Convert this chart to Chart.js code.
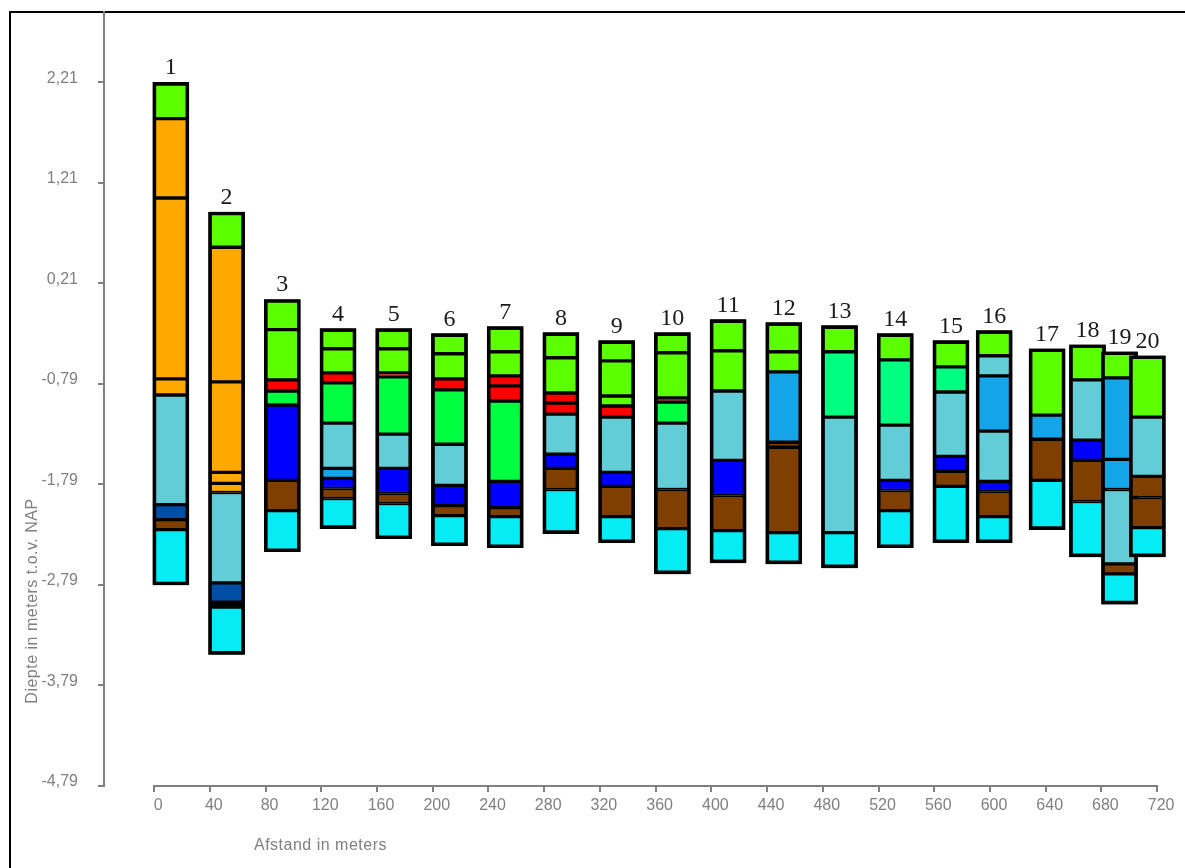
<!DOCTYPE html>
<html>
<head>
<meta charset="utf-8">
<script src="https://cdn.jsdelivr.net/npm/chart.js@4.4.1/dist/chart.umd.min.js"></script>
<style>
  body { margin: 0; background: #fff; }
  #wrap { position: relative; width: 1185px; height: 868px; overflow: hidden; }
  #frame { position: absolute; left: 9px; top: 11px; width: 1300px; height: 1000px; border-top: 2px solid #000; border-left: 2px solid #000; }
  canvas { position: absolute; left: 0; top: 0; }
</style>
</head>
<body>
<div id="wrap">
  <div id="frame"></div>
  <canvas id="chart" width="1185" height="868"></canvas>
</div>
<script>
// boringen (nummer + afstand in meters)
const boringen = ["1", "2", "3", "4", "5", "6", "7", "8", "9", "10", "11", "12", "13", "14", "15", "16", "17", "18", "19", "20"];
const afstand = [0, 40, 80, 120, 160, 200, 240, 280, 320, 360, 400, 440, 480, 520, 560, 591, 629, 658, 681, 701];

// laaggrenzen per boring, van boven naar beneden (m t.o.v. NAP)
const grenzen = [
  [2.21, 1.85, 1.06, -0.74, -0.90, -1.99, -2.14, -2.24, -2.79],
  [0.92, 0.57, -0.77, -1.67, -1.78, -1.87, -2.77, -2.96, -3.01, -3.48],
  [0.05, -0.25, -0.75, -0.86, -1.00, -1.75, -2.05, -2.46],
  [-0.24, -0.44, -0.68, -0.78, -1.18, -1.63, -1.73, -1.83, -1.93, -2.23],
  [-0.24, -0.44, -0.68, -0.72, -1.29, -1.63, -1.88, -1.98, -2.33],
  [-0.29, -0.49, -0.74, -0.85, -1.39, -1.80, -2.00, -2.10, -2.40],
  [-0.22, -0.47, -0.71, -0.81, -0.96, -1.76, -2.02, -2.11, -2.42],
  [-0.28, -0.53, -0.88, -0.98, -1.09, -1.49, -1.63, -1.84, -2.28],
  [-0.36, -0.56, -0.91, -1.01, -1.12, -1.67, -1.81, -2.11, -2.37],
  [-0.28, -0.48, -0.93, -0.97, -1.18, -1.84, -2.23, -2.68],
  [-0.15, -0.46, -0.86, -1.55, -1.90, -2.25, -2.57],
  [-0.18, -0.47, -0.67, -1.37, -1.42, -2.27, -2.58],
  [-0.21, -0.47, -1.12, -2.27, -2.62],
  [-0.29, -0.55, -1.20, -1.75, -1.85, -2.05, -2.42],
  [-0.36, -0.62, -0.87, -1.51, -1.66, -1.81, -2.37],
  [-0.26, -0.51, -0.71, -1.26, -1.76, -1.86, -2.11, -2.37],
  [-0.44, -1.10, -1.34, -1.75, -2.24],
  [-0.40, -0.75, -1.35, -1.55, -1.96, -2.51],
  [-0.47, -0.73, -1.54, -1.84, -2.58, -2.68, -2.98],
  [-0.51, -1.12, -1.71, -1.92, -2.22, -2.51]
];

// grondsoort per laag
const lagen = [
  ["lime", "oranje", "oranje", "oranje", "lichtblauw", "donkerblauw", "bruin", "cyaan"],
  ["lime", "oranje", "oranje", "oranje", "oranje", "lichtblauw", "donkerblauw", "zwart", "cyaan"],
  ["lime", "lime", "rood", "groen", "blauw", "bruin", "cyaan"],
  ["lime", "lime", "rood", "groen", "lichtblauw", "hemelsblauw", "blauw", "bruin", "cyaan"],
  ["lime", "lime", "rood", "groen", "lichtblauw", "blauw", "bruin", "cyaan"],
  ["lime", "lime", "rood", "groen", "lichtblauw", "blauw", "bruin", "cyaan"],
  ["lime", "lime", "rood", "rood", "groen", "blauw", "bruin", "cyaan"],
  ["lime", "lime", "rood", "rood", "lichtblauw", "blauw", "bruin", "cyaan"],
  ["lime", "lime", "lime", "rood", "lichtblauw", "blauw", "bruin", "cyaan"],
  ["lime", "lime", "rood", "groen", "lichtblauw", "bruin", "cyaan"],
  ["lime", "lime", "lichtblauw", "blauw", "bruin", "cyaan"],
  ["lime", "lime", "hemelsblauw", "bruin", "bruin", "cyaan"],
  ["lime", "lentegroen", "lichtblauw", "cyaan"],
  ["lime", "lentegroen", "lichtblauw", "blauw", "bruin", "cyaan"],
  ["lime", "lentegroen", "lichtblauw", "blauw", "bruin", "cyaan"],
  ["lime", "lichtblauw", "hemelsblauw", "lichtblauw", "blauw", "bruin", "cyaan"],
  ["lime", "hemelsblauw", "bruin", "cyaan"],
  ["lime", "lichtblauw", "blauw", "bruin", "cyaan"],
  ["lime", "hemelsblauw", "hemelsblauw", "lichtblauw", "bruin", "cyaan"],
  ["lime", "lichtblauw", "bruin", "bruin", "cyaan"]
];

const yTicks = [2.21, 1.21, 0.21, -0.79, -1.79, -2.79, -3.79, -4.79];
const xTicks = [0, 40, 80, 120, 160, 200, 240, 280, 320, 360, 400, 440, 480, 520, 560, 600, 640, 680, 720];

const kleuren = {
  lime: "#5cff00",
  oranje: "#ffa800",
  lichtblauw: "#62cdd6",
  donkerblauw: "#004ea6",
  bruin: "#7f3f00",
  cyaan: "#06ecf5",
  rood: "#ff0000",
  groen: "#00ff40",
  blauw: "#0000ff",
  hemelsblauw: "#14a4e8",
  lentegroen: "#00ff80",
  zwart: "#000000"
};
const grijs = "#808080";

//build one bar per layer plus an outline bar per boring
const segmenten = [];
const vulling = [];
const randen = [];
boringen.forEach((nr, i) => {
  const x = afstand[i] + 12;
  const g = grenzen[i];
  lagen[i].forEach((laag, j) => {
    segmenten.push({ x, y: [g[j], g[j + 1]] });
    vulling.push(kleuren[laag]);
    randen.push(2);
  });
  segmenten.push({ x, y: [g[0], g[g.length - 1]], nr });
  vulling.push("rgba(0,0,0,0)");
  randen.push(3);
});

//numbers above the borings, x axis line and axis titles
const tekstPlugin = {
  id: "tekst",
  afterDatasetsDraw(chart) {
    const { ctx, scales } = chart;
    const x = scales.x;
    const y = scales.y;
    ctx.save();
    ctx.strokeStyle = grijs;
    ctx.lineWidth = 2;
    ctx.beginPath();
    ctx.moveTo(x.getPixelForValue(xTicks[0]) - 1, y.bottom);
    ctx.lineTo(x.getPixelForValue(xTicks[xTicks.length - 1]) + 1, y.bottom);
    ctx.stroke();

    ctx.fillStyle = "#1a1a1a";
    ctx.font = '24px "Liberation Serif"';
    ctx.textAlign = "center";
    ctx.textBaseline = "alphabetic";
    segmenten.forEach((s) => {
      if (!s.nr) return;
      ctx.fillText(s.nr, x.getPixelForValue(s.x), y.getPixelForValue(s.y[0]) - 8);
    });

    ctx.fillStyle = grijs;
    ctx.font = '16px "Liberation Sans"';
    ctx.letterSpacing = "0.5px";
    ctx.textAlign = "left";
    ctx.textBaseline = "middle";
    ctx.fillText("Afstand in meters", 254, 846);
    ctx.translate(33, 601);
    ctx.rotate(-Math.PI / 2);
    ctx.textAlign = "center";
    ctx.fillText("Diepte in meters t.o.v. NAP", 0, 0);
    ctx.restore();
  }
};

new Chart(document.getElementById("chart"), {
  type: "bar",
  data: {
    datasets: [
      {
        label: "lagen",
        data: segmenten,
        backgroundColor: vulling,
        borderColor: "#000",
        borderWidth: randen,
        borderSkipped: false,
        barThickness: 36,
      },
    ],
  },
  options: {
    responsive: false,
    animation: false,
    layout: { padding: { top: 12, right: 0, bottom: 0, left: 0 } },
    plugins: { legend: { display: false }, tooltip: { enabled: false } },
    scales: {
      x: {
        type: "linear",
        min: -36,
        max: 740,
        offset: false,
        afterFit: (scale) => {
          scale.height = 82;
          scale.paddingLeft = 0;
          scale.paddingRight = 0;
        },
        afterBuildTicks: (scale) => { scale.ticks = xTicks.map((value) => ({ value })); },
        border: { display: false },
        grid: { offset: false, drawOnChartArea: false, color: grijs, lineWidth: 2, tickLength: 6 },
        ticks: { color: grijs, font: { family: "Liberation Sans", size: 16 }, padding: 4, labelOffset: 4, maxRotation: 0, autoSkip: false },
      },
      y: {
        min: -4.79,
        max: 2.91,
        stacked: false,
        afterFit: (scale) => {
          scale.width = 104;
          scale.paddingTop = 0;
          scale.paddingBottom = 0;
        },
        afterBuildTicks: (scale) => { scale.ticks = yTicks.map((value) => ({ value })); },
        border: { color: grijs, width: 2 },
        grid: { drawOnChartArea: false, color: grijs, lineWidth: 2, tickLength: 6 },
        ticks: {
          color: grijs,
          font: { family: "Liberation Sans", size: 16 },
          padding: 20,
          labelOffset: -4,
          callback: (v) => v.toFixed(2).replace(".", ","),
        },
      },
    },
  },
  plugins: [tekstPlugin],
});
</script>
</body>
</html>
